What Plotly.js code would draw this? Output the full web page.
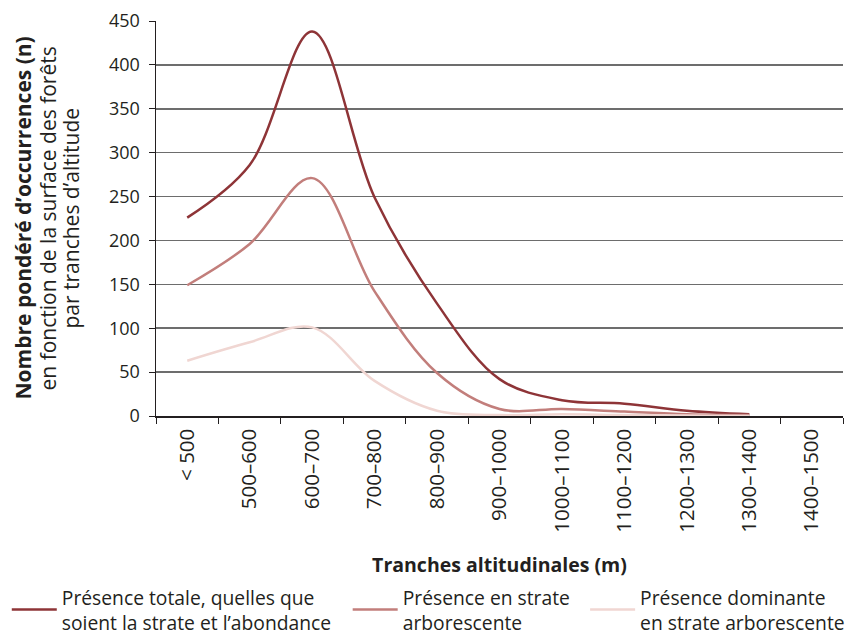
<!DOCTYPE html>
<html>
<head>
<meta charset="utf-8">
<script src="https://cdn.plot.ly/plotly-3.0.1.min.js"></script>
<style>html,body{margin:0;padding:0;background:#fff}#chart{width:848px;height:642px}</style>
</head>
<body>
<div id="chart"></div>
<script>
const categories = ['< 500','500–600','600–700','700–800','800–900','900–1000','1000–1100','1100–1200','1200–1300','1300–1400','1400–1500'];
const presenceTotale = [226, 286, 438, 249, 128, 42, 18, 14, 6, 2, null];
const presenceStrate = [149, 196, 271, 142, 49, 8, 8, 5, 2, 1, null];
const presenceDominante = [63, 84, 101, 40, 6, 1, 2, 1, 0.5, 0, null];
const seriesNames = [
  'Présence totale, quelles que<br>soient la strate et l’abondance',
  'Présence en strate<br>arborescente',
  'Présence dominante<br>en strate arborescente'
];
const yTitleLines = [
  '<b>Nombre pondéré d’occurrences (n)</b>',
  'en fonction de la surface des forêts',
  'par tranches d’altitude'
];
const colors = ['#8E3437', '#C27E7B', '#F0D6D2'];
const FONT = '"Open Sans", Lato, sans-serif';

const mk = (y, i) => ({
  x: categories, y: y, name: seriesNames[i], type: 'scatter', mode: 'lines',
  line: {color: colors[i], width: 2.5, shape: 'spline', smoothing: 1},
  connectgaps: false, legend: i === 0 ? 'legend' : 'legend' + (i + 1)
});
const data = [mk(presenceTotale,0), mk(presenceStrate,1), mk(presenceDominante,2)];

const legBase = {xref: 'container', yref: 'container', y: 0, xanchor: 'left', yanchor: 'bottom',
                 font: {size: 19.3, family: FONT}, bgcolor: 'rgba(0,0,0,0)', itemwidth: 45};

const plotL = 156, plotW = 848 - 156 - 5;
const yTitleX = [22, 47, 70].map(px => (px - plotL) / plotW);

const layout = {
  width: 848, height: 642,
  margin: {l: plotL, r: 5, t: 21, b: 226, autoexpand: false},
  paper_bgcolor: '#fff', plot_bgcolor: '#fff',
  font: {family: FONT, size: 18, color: '#231f20'},
  showlegend: true,
  legend: Object.assign({}, legBase, {x: 0.008}),
  legend2: Object.assign({}, legBase, {x: 0.41}),
  legend3: Object.assign({}, legBase, {x: 0.69}),
  xaxis: {
    type: 'category', tickson: 'boundaries', ticks: 'outside', ticklen: 6,
    tickcolor: '#231f20', showline: true, linecolor: '#231f20', linewidth: 1.5,
    tickangle: -90, showgrid: false, range: [-0.5, 10.5],
    tickfont: {size: 20.5, family: FONT}, ticklabelstandoff: 3,
    title: {text: '<b>Tranches altitudinales (m)</b>', font: {size: 19.5, family: FONT}, standoff: 26}
  },
  yaxis: {
    range: [0, 450], dtick: 50, ticks: 'outside', ticklen: 6, tickcolor: '#231f20',
    showline: true, linecolor: '#231f20', linewidth: 1.5,
    showgrid: true, gridcolor: '#6d6d6d', gridwidth: 1.5,
    zeroline: false, tickfont: {size: 18, family: FONT}, ticklabelstandoff: 5
  },
  annotations: yTitleLines.map((t, i) => ({
    text: t, xref: 'paper', yref: 'paper', x: yTitleX[i], y: 0.5,
    xanchor: 'center', yanchor: 'middle', textangle: -90, showarrow: false,
    font: {size: 21, family: FONT, color: '#231f20'}
  }))
};
Plotly.newPlot('chart', data, layout, {displayModeBar: false, staticPlot: true});
</script>
</body>
</html>
